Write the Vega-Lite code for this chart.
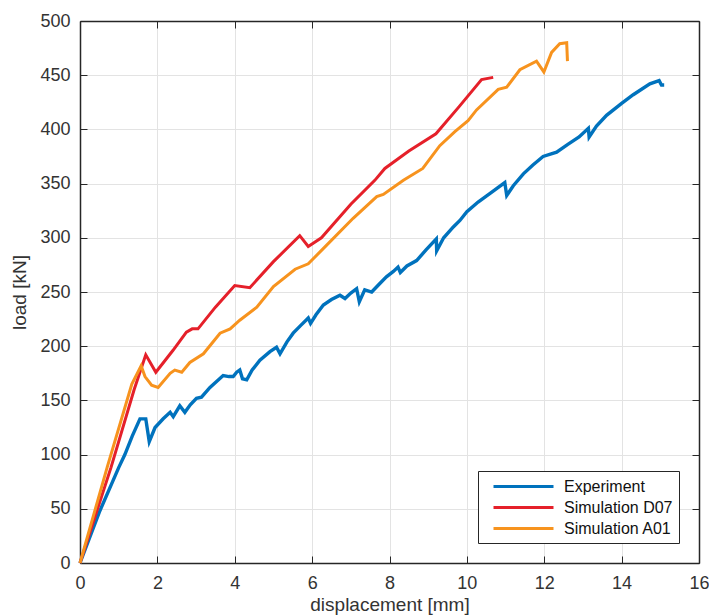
{
  "$schema": "https://vega.github.io/schema/vega-lite/v6.json",
  "width": 619,
  "height": 542,
  "autosize": "none",
  "padding": {"left": 80, "top": 21, "right": 10, "bottom": 53},
  "data": {"values": [
    {"series":"Experiment","i":0,"x":0,"y":0},
    {"series":"Experiment","i":1,"x":0.5,"y":47},
    {"series":"Experiment","i":2,"x":1.0,"y":88},
    {"series":"Experiment","i":3,"x":1.16,"y":100},
    {"series":"Experiment","i":4,"x":1.35,"y":117},
    {"series":"Experiment","i":5,"x":1.55,"y":133},
    {"series":"Experiment","i":6,"x":1.70,"y":133},
    {"series":"Experiment","i":7,"x":1.79,"y":112},
    {"series":"Experiment","i":8,"x":1.94,"y":125},
    {"series":"Experiment","i":9,"x":2.15,"y":133},
    {"series":"Experiment","i":10,"x":2.33,"y":139},
    {"series":"Experiment","i":11,"x":2.41,"y":135},
    {"series":"Experiment","i":12,"x":2.58,"y":145},
    {"series":"Experiment","i":13,"x":2.71,"y":139},
    {"series":"Experiment","i":14,"x":2.85,"y":146},
    {"series":"Experiment","i":15,"x":3.01,"y":152},
    {"series":"Experiment","i":16,"x":3.14,"y":153},
    {"series":"Experiment","i":17,"x":3.36,"y":162},
    {"series":"Experiment","i":18,"x":3.70,"y":173},
    {"series":"Experiment","i":19,"x":3.85,"y":172},
    {"series":"Experiment","i":20,"x":3.96,"y":172},
    {"series":"Experiment","i":21,"x":4.05,"y":176},
    {"series":"Experiment","i":22,"x":4.13,"y":178},
    {"series":"Experiment","i":23,"x":4.20,"y":170},
    {"series":"Experiment","i":24,"x":4.31,"y":169},
    {"series":"Experiment","i":25,"x":4.45,"y":178},
    {"series":"Experiment","i":26,"x":4.65,"y":187},
    {"series":"Experiment","i":27,"x":4.91,"y":195},
    {"series":"Experiment","i":28,"x":5.08,"y":199},
    {"series":"Experiment","i":29,"x":5.17,"y":193},
    {"series":"Experiment","i":30,"x":5.35,"y":204},
    {"series":"Experiment","i":31,"x":5.51,"y":212},
    {"series":"Experiment","i":32,"x":5.70,"y":219},
    {"series":"Experiment","i":33,"x":5.90,"y":226},
    {"series":"Experiment","i":34,"x":5.96,"y":221},
    {"series":"Experiment","i":35,"x":6.10,"y":229},
    {"series":"Experiment","i":36,"x":6.29,"y":238},
    {"series":"Experiment","i":37,"x":6.50,"y":243},
    {"series":"Experiment","i":38,"x":6.72,"y":247},
    {"series":"Experiment","i":39,"x":6.85,"y":244},
    {"series":"Experiment","i":40,"x":7.00,"y":249},
    {"series":"Experiment","i":41,"x":7.15,"y":253},
    {"series":"Experiment","i":42,"x":7.22,"y":241},
    {"series":"Experiment","i":43,"x":7.36,"y":252},
    {"series":"Experiment","i":44,"x":7.54,"y":250},
    {"series":"Experiment","i":45,"x":7.70,"y":256},
    {"series":"Experiment","i":46,"x":7.92,"y":264},
    {"series":"Experiment","i":47,"x":8.10,"y":269},
    {"series":"Experiment","i":48,"x":8.22,"y":273},
    {"series":"Experiment","i":49,"x":8.28,"y":268},
    {"series":"Experiment","i":50,"x":8.45,"y":274},
    {"series":"Experiment","i":51,"x":8.70,"y":279},
    {"series":"Experiment","i":52,"x":8.95,"y":289},
    {"series":"Experiment","i":53,"x":9.21,"y":299},
    {"series":"Experiment","i":54,"x":9.22,"y":288},
    {"series":"Experiment","i":55,"x":9.40,"y":300},
    {"series":"Experiment","i":56,"x":9.65,"y":310},
    {"series":"Experiment","i":57,"x":9.82,"y":316},
    {"series":"Experiment","i":58,"x":10.0,"y":324},
    {"series":"Experiment","i":59,"x":10.29,"y":333},
    {"series":"Experiment","i":60,"x":10.6,"y":341},
    {"series":"Experiment","i":61,"x":10.98,"y":351},
    {"series":"Experiment","i":62,"x":11.03,"y":339},
    {"series":"Experiment","i":63,"x":11.2,"y":348},
    {"series":"Experiment","i":64,"x":11.46,"y":359},
    {"series":"Experiment","i":65,"x":11.7,"y":367},
    {"series":"Experiment","i":66,"x":11.97,"y":375},
    {"series":"Experiment","i":67,"x":12.32,"y":379},
    {"series":"Experiment","i":68,"x":12.6,"y":386},
    {"series":"Experiment","i":69,"x":12.9,"y":393},
    {"series":"Experiment","i":70,"x":13.14,"y":401},
    {"series":"Experiment","i":71,"x":13.16,"y":393},
    {"series":"Experiment","i":72,"x":13.35,"y":403},
    {"series":"Experiment","i":73,"x":13.61,"y":413},
    {"series":"Experiment","i":74,"x":14.0,"y":424},
    {"series":"Experiment","i":75,"x":14.30,"y":432},
    {"series":"Experiment","i":76,"x":14.73,"y":442},
    {"series":"Experiment","i":77,"x":14.97,"y":445},
    {"series":"Experiment","i":78,"x":15.03,"y":441},
    {"series":"Experiment","i":79,"x":15.10,"y":441},
    {"series":"Simulation D07","i":0,"x":0,"y":0},
    {"series":"Simulation D07","i":1,"x":0.8,"y":88},
    {"series":"Simulation D07","i":2,"x":1.4,"y":160},
    {"series":"Simulation D07","i":3,"x":1.70,"y":192},
    {"series":"Simulation D07","i":4,"x":1.96,"y":176},
    {"series":"Simulation D07","i":5,"x":2.4,"y":196},
    {"series":"Simulation D07","i":6,"x":2.75,"y":213},
    {"series":"Simulation D07","i":7,"x":2.9,"y":216},
    {"series":"Simulation D07","i":8,"x":3.05,"y":216},
    {"series":"Simulation D07","i":9,"x":3.5,"y":236},
    {"series":"Simulation D07","i":10,"x":4.0,"y":256},
    {"series":"Simulation D07","i":11,"x":4.39,"y":254},
    {"series":"Simulation D07","i":12,"x":5.0,"y":278},
    {"series":"Simulation D07","i":13,"x":5.68,"y":302},
    {"series":"Simulation D07","i":14,"x":5.90,"y":292},
    {"series":"Simulation D07","i":15,"x":6.24,"y":300},
    {"series":"Simulation D07","i":16,"x":7.0,"y":331},
    {"series":"Simulation D07","i":17,"x":7.62,"y":353},
    {"series":"Simulation D07","i":18,"x":7.88,"y":364},
    {"series":"Simulation D07","i":19,"x":8.5,"y":380},
    {"series":"Simulation D07","i":20,"x":9.2,"y":396},
    {"series":"Simulation D07","i":21,"x":9.8,"y":421},
    {"series":"Simulation D07","i":22,"x":10.38,"y":446},
    {"series":"Simulation D07","i":23,"x":10.68,"y":448},
    {"series":"Simulation A01","i":0,"x":0,"y":0},
    {"series":"Simulation A01","i":1,"x":0.7,"y":88},
    {"series":"Simulation A01","i":2,"x":1.34,"y":165},
    {"series":"Simulation A01","i":3,"x":1.58,"y":182},
    {"series":"Simulation A01","i":4,"x":1.68,"y":172},
    {"series":"Simulation A01","i":5,"x":1.85,"y":164},
    {"series":"Simulation A01","i":6,"x":2.02,"y":162},
    {"series":"Simulation A01","i":7,"x":2.33,"y":175},
    {"series":"Simulation A01","i":8,"x":2.45,"y":178},
    {"series":"Simulation A01","i":9,"x":2.63,"y":176},
    {"series":"Simulation A01","i":10,"x":2.84,"y":185},
    {"series":"Simulation A01","i":11,"x":3.19,"y":193},
    {"series":"Simulation A01","i":12,"x":3.62,"y":212},
    {"series":"Simulation A01","i":13,"x":3.88,"y":216},
    {"series":"Simulation A01","i":14,"x":4.13,"y":224},
    {"series":"Simulation A01","i":15,"x":4.57,"y":236},
    {"series":"Simulation A01","i":16,"x":5.0,"y":255},
    {"series":"Simulation A01","i":17,"x":5.56,"y":271},
    {"series":"Simulation A01","i":18,"x":5.90,"y":276},
    {"series":"Simulation A01","i":19,"x":6.37,"y":293},
    {"series":"Simulation A01","i":20,"x":7.06,"y":318},
    {"series":"Simulation A01","i":21,"x":7.67,"y":338},
    {"series":"Simulation A01","i":22,"x":7.84,"y":340},
    {"series":"Simulation A01","i":23,"x":8.36,"y":353},
    {"series":"Simulation A01","i":24,"x":8.86,"y":364},
    {"series":"Simulation A01","i":25,"x":9.30,"y":385},
    {"series":"Simulation A01","i":26,"x":9.69,"y":398},
    {"series":"Simulation A01","i":27,"x":10.03,"y":408},
    {"series":"Simulation A01","i":28,"x":10.25,"y":418},
    {"series":"Simulation A01","i":29,"x":10.81,"y":437},
    {"series":"Simulation A01","i":30,"x":11.03,"y":439},
    {"series":"Simulation A01","i":31,"x":11.37,"y":455},
    {"series":"Simulation A01","i":32,"x":11.80,"y":463},
    {"series":"Simulation A01","i":33,"x":11.99,"y":453},
    {"series":"Simulation A01","i":34,"x":12.19,"y":471},
    {"series":"Simulation A01","i":35,"x":12.40,"y":479},
    {"series":"Simulation A01","i":36,"x":12.58,"y":480},
    {"series":"Simulation A01","i":37,"x":12.60,"y":463}
  ]},
  "config": {
    "font": "Liberation Sans",
    "view": {"stroke": null},
    "axis": {
      "labelFont": "Liberation Sans",
      "labelFontSize": 18,
      "labelColor": "#333333",
      "labelFlush": false,
      "titleFont": "Liberation Sans",
      "titleFontSize": 19,
      "titleFontWeight": "normal",
      "titleColor": "#333333",
      "gridColor": "#e3e3e3",
      "gridWidth": 1,
      "domainColor": "#262626",
      "domainWidth": 1.5,
      "tickColor": "#262626",
      "tickSize": -7,
      "tickWidth": 1
    },
    "legend": {
      "orient": "bottom-right",
      "offset": 20,
      "title": null,
      "strokeColor": "#262626",
      "fillColor": "white",
      "padding": 6,
      "symbolType": "M-3.75,0H3.75",
      "symbolSize": 256,
      "symbolStrokeWidth": 3,
      "symbolOffset": 30,
      "labelOffset": 31,
      "labelFont": "Liberation Sans",
      "labelFontSize": 16,
      "labelColor": "#111111",
      "rowPadding": 3
    }
  },
  "layer": [
    {
      "transform": [{"filter": "datum.series === 'Experiment'"}],
      "mark": {"type": "line", "strokeWidth": 3.4},
      "encoding": {
        "x": {"field": "x", "type": "quantitative", "scale": {"domain": [0, 16], "nice": false, "zero": false},
          "axis": {"orient": "bottom", "values": [0,2,4,6,8,10,12,14,16], "labelPadding": 18, "title": "displacement [mm]", "titlePadding": 3}},
        "y": {"field": "y", "type": "quantitative", "scale": {"domain": [0, 500], "nice": false, "zero": false},
          "axis": {"orient": "left", "values": [0,50,100,150,200,250,300,350,400,450,500], "labelPadding": 17, "title": "load [kN]", "titlePadding": 10}},
        "color": {"field": "series", "type": "nominal",
          "scale": {"domain": ["Experiment", "Simulation D07", "Simulation A01"], "range": ["#0072BD", "#E5202A", "#F7931E"]}},
        "order": {"field": "i", "type": "quantitative"}
      }
    },
    {
      "transform": [{"filter": "datum.series === 'Simulation D07'"}],
      "mark": {"type": "line", "strokeWidth": 3},
      "encoding": {
        "x": {"field": "x", "type": "quantitative", "axis": null},
        "y": {"field": "y", "type": "quantitative", "axis": null},
        "color": {"field": "series", "type": "nominal"},
        "order": {"field": "i", "type": "quantitative"}
      }
    },
    {
      "transform": [{"filter": "datum.series === 'Simulation A01'"}],
      "mark": {"type": "line", "strokeWidth": 3},
      "encoding": {
        "x": {"field": "x", "type": "quantitative", "axis": null},
        "y": {"field": "y", "type": "quantitative", "axis": null},
        "color": {"field": "series", "type": "nominal"},
        "order": {"field": "i", "type": "quantitative"}
      }
    },
    {
      "mark": {"type": "point", "opacity": 0},
      "encoding": {
        "x": {"field": "x", "type": "quantitative",
          "axis": {"orient": "top", "values": [0,2,4,6,8,10,12,14,16], "labels": false, "grid": false, "title": null}},
        "y": {"field": "y", "type": "quantitative",
          "axis": {"orient": "right", "values": [0,50,100,150,200,250,300,350,400,450,500], "labels": false, "grid": false, "title": null}}
      }
    }
  ],
  "resolve": {"axis": {"x": "independent", "y": "independent"}}
}
